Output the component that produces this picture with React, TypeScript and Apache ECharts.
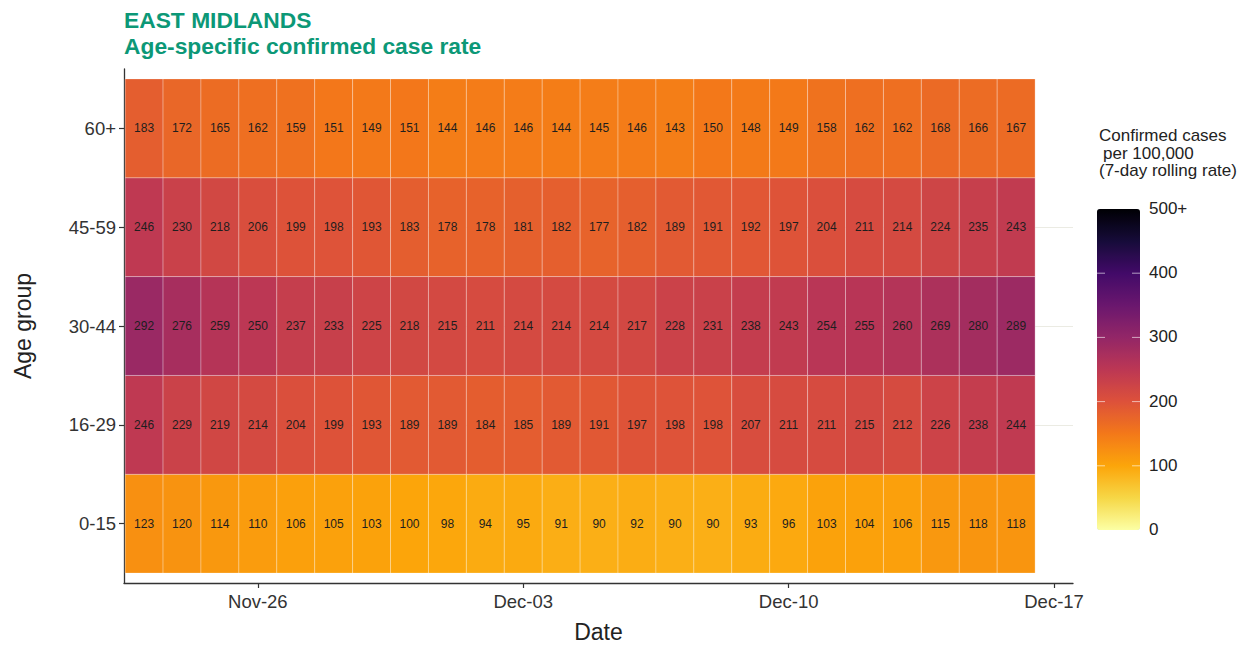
import React, { useEffect, useRef } from "react";
import * as echarts from "echarts";

// ---------- data ----------
const dates = [
  "2020-11-23", "2020-11-24", "2020-11-25", "2020-11-26", "2020-11-27", "2020-11-28",
  "2020-11-29", "2020-11-30", "2020-12-01", "2020-12-02", "2020-12-03", "2020-12-04",
  "2020-12-05", "2020-12-06", "2020-12-07", "2020-12-08", "2020-12-09", "2020-12-10",
  "2020-12-11", "2020-12-12", "2020-12-13", "2020-12-14", "2020-12-15", "2020-12-16",
];

// bottom to top
const ageGroups = ["0-15", "16-29", "30-44", "45-59", "60+"];

const rates0to15 = [123, 120, 114, 110, 106, 105, 103, 100, 98, 94, 95, 91, 90, 92, 90, 90, 93, 96, 103, 104, 106, 115, 118, 118];
const rates16to29 = [246, 229, 219, 214, 204, 199, 193, 189, 189, 184, 185, 189, 191, 197, 198, 198, 207, 211, 211, 215, 212, 226, 238, 244];
const rates30to44 = [292, 276, 259, 250, 237, 233, 225, 218, 215, 211, 214, 214, 214, 217, 228, 231, 238, 243, 254, 255, 260, 269, 280, 289];
const rates45to59 = [246, 230, 218, 206, 199, 198, 193, 183, 178, 178, 181, 182, 177, 182, 189, 191, 192, 197, 204, 211, 214, 224, 235, 243];
const rates60plus = [183, 172, 165, 162, 159, 151, 149, 151, 144, 146, 146, 144, 145, 146, 143, 150, 148, 149, 158, 162, 162, 168, 166, 167];

const ratesByGroup = [rates0to15, rates16to29, rates30to44, rates45to59, rates60plus];

const xTickDates = ["2020-11-26", "2020-12-03", "2020-12-10", "2020-12-17"];
const xTickLabels = ["Nov-26", "Dec-03", "Dec-10", "Dec-17"];

const legendTicks = [0, 100, 200, 300, 400, 500];
const legendTickLabels = ["0", "100", "200", "300", "400", "500+"];

// inferno, reversed (low = pale yellow, high = black)
const infernoReversed = [
  "#fcffa4", "#f6d746", "#fca50a", "#f37819", "#dd513a", "#bc3754",
  "#932667", "#6a176e", "#420a68", "#160b39", "#000004",
];

// ---------- helpers ----------
const DAY = 86400000;
const parseDate = (s: string) => {
  const [y, m, d] = s.split("-").map(Number);
  return Date.UTC(y, m - 1, d);
};
const dayOffset = (s: string) => Math.round((parseDate(s) - parseDate(dates[0])) / DAY);
const FONT = "'Liberation Sans', Arial, Helvetica, sans-serif";

export default function App() {
  const ref = useRef<HTMLDivElement>(null);

  useEffect(() => {
    if (!ref.current) return;
    const chart = echarts.init(ref.current, undefined, { renderer: "svg" });

    const dayX = dates.map(dayOffset);
    const tickX = xTickDates.map(dayOffset);
    const data: number[][] = [];
    ratesByGroup.forEach((row, gi) => {
      row.forEach((v, di) => data.push([dayX[di], gi, v]));
    });

    // legend geometry
    const barLeft = 1097;
    const barTop = 209;
    const barW = 43;
    const barH = 321;
    const vmin = 0;
    const vmax = 500;
    const yOf = (v: number) => barTop + barH - ((v - vmin) / (vmax - vmin)) * barH;

    const legendGraphics: any[] = [];
    legendTicks.forEach((t, i) => {
      legendGraphics.push({
        type: "text",
        left: 1149,
        top: yOf(t) - 9,
        style: {
          text: legendTickLabels[i],
          fontSize: 17,
          fontFamily: FONT,
          fill: "#222",
        },
      });
      if (t > vmin && t < vmax) {
        legendGraphics.push({
          type: "line",
          shape: { x1: barLeft, y1: yOf(t), x2: barLeft + 8, y2: yOf(t) },
          style: { stroke: "rgba(255,255,255,0.6)", lineWidth: 1 },
          z: 100,
        });
        legendGraphics.push({
          type: "line",
          shape: { x1: barLeft + barW - 8, y1: yOf(t), x2: barLeft + barW, y2: yOf(t) },
          style: { stroke: "rgba(255,255,255,0.6)", lineWidth: 1 },
          z: 100,
        });
      }
    });

    const legendTitle = ["Confirmed cases", "per 100,000", "(7-day rolling rate)"];
    const legendTitleX = [1099, 1103, 1099];
    const legendTitleY = [127, 144.5, 162];
    legendTitle.forEach((t, i) => {
      legendGraphics.push({
        type: "text",
        left: legendTitleX[i],
        top: legendTitleY[i],
        style: { text: t, fontSize: 17, fontFamily: FONT, fill: "#222" },
      });
    });

    const titleStyle = {
      fontSize: 22.8,
      fontWeight: "bold",
      color: "#0c9877",
      lineHeight: 26,
      fontFamily: FONT,
    };

    const option: any = {
      animation: false,
      backgroundColor: "#ffffff",
      title: {
        text: "EAST MIDLANDS",
        subtext: "Age-specific confirmed case rate",
        left: 124,
        top: 6.5,
        padding: 0,
        itemGap: 0,
        textStyle: titleStyle,
        subtextStyle: titleStyle,
      },
      grid: { left: 124, right: 177, top: 69, bottom: 60, containLabel: false },
      xAxis: {
        type: "value",
        min: -0.53,
        max: 24.5,
        axisLine: { show: true, onZero: false, lineStyle: { color: "#333", width: 1.3 } },
        axisTick: {
          show: true,
          customValues: tickX,
          length: 5,
          lineStyle: { color: "#333", width: 1.2 },
        },
        axisLabel: {
          customValues: tickX,
          formatter: (v: number) => {
            const idx = tickX.findIndex((t) => Math.abs(t - v) < 0.5);
            return idx >= 0 ? xTickLabels[idx] : "";
          },
          fontSize: 18.5,
          color: "#333",
          margin: 9,
          fontFamily: FONT,
        },
        splitLine: { show: false },
        name: "Date",
        nameLocation: "middle",
        nameGap: 37,
        nameTextStyle: { fontSize: 23, color: "#222", fontFamily: FONT },
      },
      yAxis: {
        type: "value",
        min: -0.6,
        max: 4.6,
        axisLine: { show: true, onZero: false, lineStyle: { color: "#333", width: 1.3 } },
        axisTick: {
          show: true,
          customValues: ageGroups.map((_, i) => i),
          length: 5,
          lineStyle: { color: "#333", width: 1.2 },
        },
        axisLabel: {
          customValues: ageGroups.map((_, i) => i),
          formatter: (v: number) => ageGroups[Math.round(v)] ?? "",
          fontSize: 18.5,
          color: "#333",
          margin: 8,
          fontFamily: FONT,
        },
        splitLine: {
          show: true,
          showMinLine: false,
          showMaxLine: false,
          lineStyle: { color: "#ebebe3", width: 1 },
        },
        name: "Age group",
        nameLocation: "middle",
        nameGap: 90,
        nameTextStyle: { fontSize: 23, color: "#222", fontFamily: FONT },
      },
      visualMap: {
        type: "continuous",
        seriesIndex: 0,
        dimension: 2,
        min: vmin,
        max: vmax,
        calculable: false,
        hoverLink: false,
        left: barLeft,
        top: barTop,
        itemWidth: barW,
        itemHeight: barH,
        padding: 0,
        orient: "vertical",
        inRange: { color: infernoReversed },
        textStyle: { color: "transparent" },
      },
      graphic: legendGraphics,
      series: [
        {
          type: "custom",
          data,
          dimensions: ["day", "group", "rate"],
          encode: { x: 0, y: 1 },
          renderItem: (params: any, api: any) => {
            const x = api.value(0);
            const g = api.value(1);
            const v = api.value(2);
            const p0 = api.coord([x - 0.5, g + 0.5]);
            const p1 = api.coord([x + 0.5, g - 0.5]);
            return {
              type: "group",
              children: [
                {
                  type: "rect",
                  shape: { x: p0[0], y: p0[1], width: p1[0] - p0[0], height: p1[1] - p0[1] },
                  style: {
                    fill: api.visual("color"),
                    stroke: "rgba(255,255,255,0.28)",
                    lineWidth: 1,
                  },
                },
                {
                  type: "text",
                  style: {
                    text: String(v),
                    x: (p0[0] + p1[0]) / 2,
                    y: (p0[1] + p1[1]) / 2,
                    align: "center",
                    verticalAlign: "middle",
                    fontSize: 12,
                    fontFamily: FONT,
                    fill: "#1e1e1e",
                  },
                  z2: 10,
                },
              ],
            };
          },
        },
      ],
    };

    chart.setOption(option);
    return () => chart.dispose();
  }, []);

  return (
    <div
      ref={ref}
      style={{ position: "fixed", left: 0, top: 0, width: 1250, height: 648, background: "#fff" }}
    />
  );
}
